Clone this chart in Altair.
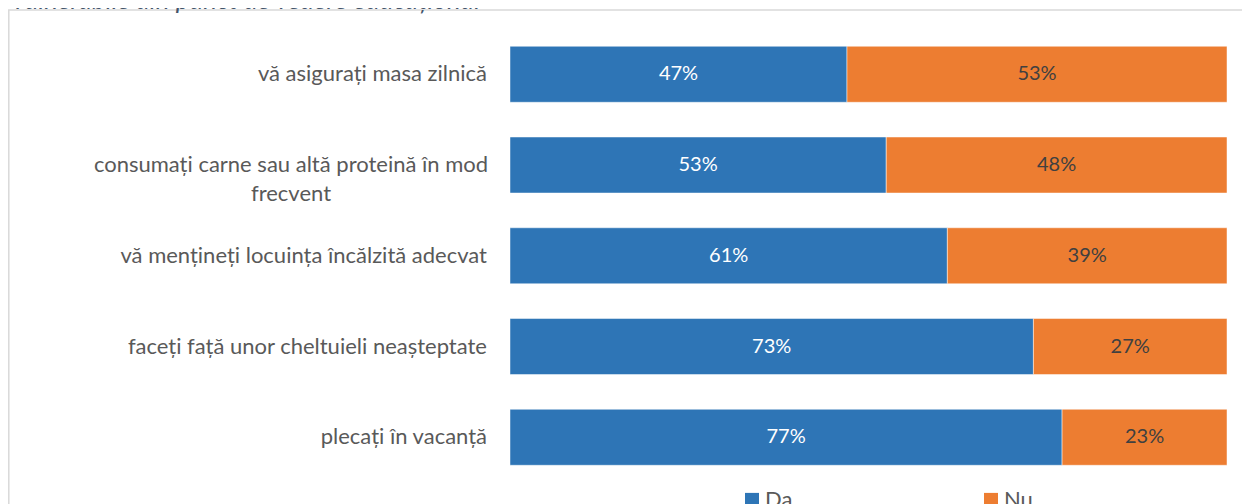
import altair as alt
import pandas as pd

# ---- data ----
categorii = [
    "vă asigurați masa zilnică",
    "consumați carne sau altă proteină în mod frecvent",
    "vă mențineți locuința încălzită adecvat",
    "faceți față unor cheltuieli neașteptate",
    "plecați în vacanță",
]
etichete = [
    "vă asigurați masa zilnică",
    "consumați carne sau altă proteină în mod\nfrecvent",
    "vă mențineți locuința încălzită adecvat",
    "faceți față unor cheltuieli neașteptate",
    "plecați în vacanță",
]
serii = ["Da", "Nu"]
da = [47, 53, 61, 73, 77]
nu = [53, 48, 39, 27, 23]
titlu = ["vulnerabile din punct de vedere educațional"]

BLUE = "#2E75B6"
ORANGE = "#ED7D31"
FONT = "Lato"

rows = []
for c, a, b in zip(categorii, da, nu):
    rows.append({"categorie": c, "serie": "Da", "valoare": a, "ordine": 0})
    rows.append({"categorie": c, "serie": "Nu", "valoare": b, "ordine": 1})
df = pd.DataFrame(rows)

lab = pd.DataFrame({
    "categorie": categorii,
    "eticheta": etichete,
    "multi": ["\n" in e for e in etichete],
})

W, H = 717, 453.75
yscale = alt.Scale(domain=categorii, paddingInner=0.383, paddingOuter=0.1915)
ycat = alt.Y("categorie:N", sort=categorii, scale=yscale, axis=None)

base = alt.Chart(df).transform_stack(
    stack="valoare",
    groupby=["categorie"],
    as_=["x0", "x1"],
    offset="normalize",
    sort=[alt.SortField("ordine", order="ascending")],
).transform_calculate(xm="(datum.x0 + datum.x1) / 2")

bars = base.mark_bar(stroke="white", strokeWidth=0.8, strokeOpacity=0.6).encode(
    y=alt.Y("categorie:N", sort=categorii, scale=yscale,
            axis=alt.Axis(labels=False, ticks=False, domain=True,
                          domainColor="#D9D9D9", domainWidth=1.2, grid=False, title=None)),
    x=alt.X("x0:Q", scale=alt.Scale(domain=[0, 1], nice=False, zero=False), axis=None),
    x2="x1:Q",
    color=alt.Color(
        "serie:N",
        scale=alt.Scale(domain=serii, range=[BLUE, ORANGE]),
        legend=alt.Legend(
            title=None, orient="none", legendX=231, legendY=460,
            direction="horizontal", symbolType="square", symbolSize=196,
            symbolStrokeWidth=0, labelFont=FONT, labelFontSize=22,
            labelColor="#595959", columnPadding=187, labelOffset=2,
        ),
    ),
    order=alt.Order("ordine:Q"),
)

vals = base.mark_text(font=FONT, fontSize=20, baseline="middle", align="center").encode(
    y=ycat,
    x=alt.X("xm:Q", scale=alt.Scale(domain=[0, 1], nice=False, zero=False), axis=None),
    text=alt.Text("label:N"),
    color=alt.when(alt.datum.serie == "Da").then(alt.value("white")).otherwise(alt.value("#404040")),
).transform_calculate(label="datum.valoare + '%'")

lab_right = alt.Chart(lab).transform_filter("!datum.multi").mark_text(
    font=FONT, fontSize=22, color="#595959", align="right", baseline="middle"
).encode(y=ycat, x=alt.value(-23), text="eticheta:N")

lab_center = alt.Chart(lab).transform_filter("datum.multi").mark_text(
    font=FONT, fontSize=22, color="#595959", align="center", baseline="middle",
    lineBreak="\n", lineHeight=29
).encode(y=ycat, x=alt.value(-219), text="eticheta:N")

title_df = pd.DataFrame({"t": titlu})
title_mark = alt.Chart(title_df).mark_text(
    font=FONT, fontSize=26, fontStyle="italic", color="#44546A",
    align="right", baseline="alphabetic"
).encode(x=alt.value(-30), y=alt.value(-19.5), text="t:N")

border = alt.Chart(title_df).mark_rect(
    fillOpacity=0, stroke="#D9D9D9", strokeWidth=1.5
).encode(x=alt.value(-501.2), y=alt.value(-18.9), x2=alt.value(2000), y2=alt.value(1000))

chart = alt.layer(border, bars, vals, lab_right, lab_center, title_mark).properties(
    width=W, height=H,
    autosize=alt.AutoSizeParams(type="none"),
    padding={"left": 502, "top": 20.9, "right": 15, "bottom": 21.35},
).configure_view(stroke=None)

chart.save("out.html", embed_options={"renderer": "svg", "actions": False})
